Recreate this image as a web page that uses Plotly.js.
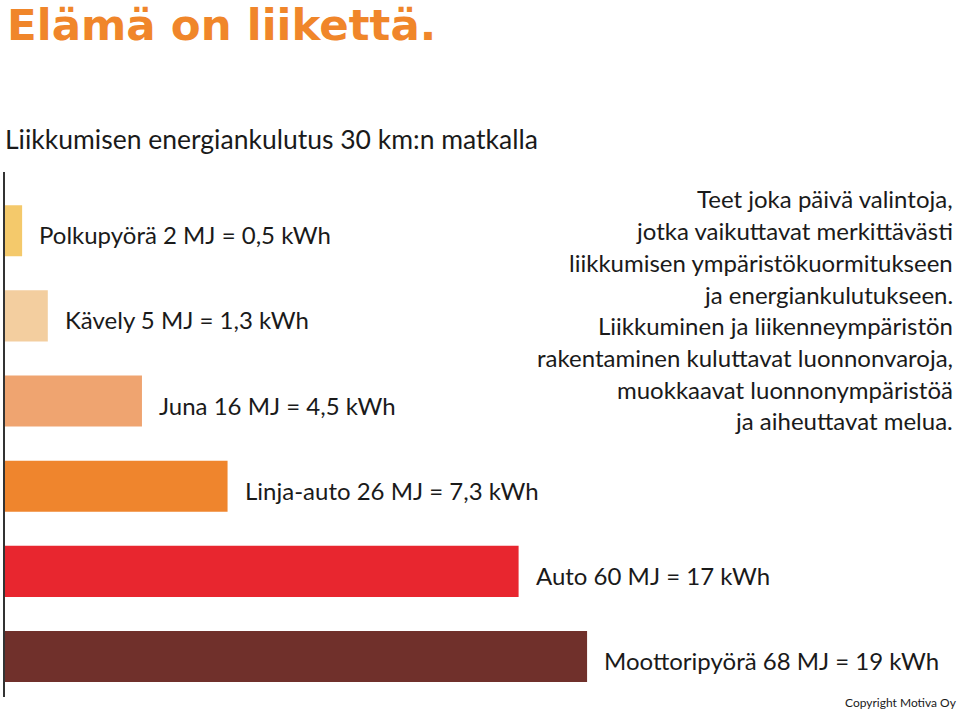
<!DOCTYPE html>
<html>
<head>
<meta charset="utf-8">
<script src="https://cdn.plot.ly/plotly-3.0.1.min.js"></script>
<style>html,body{margin:0;padding:0;background:#fff;}#chart{width:960px;height:711px;}</style>
</head>
<body>
<div id="chart"></div>
<script>
const categories = ["Polkupyörä", "Kävely", "Juna", "Linja-auto", "Auto", "Moottoripyörä"];
const valuesMJ = [2, 5, 16, 26, 60, 68];
const valuesKWh = ["0,5", "1,3", "4,5", "7,3", "17", "19"];
const barColors = ["#F4C96B", "#F3CE9F", "#EFA470", "#EF852D", "#E8262F", "#70302B"];
const infoLines = [
  "Teet joka päivä valintoja,",
  "jotka vaikuttavat merkittävästi",
  "liikkumisen ympäristökuormitukseen",
  "ja energiankulutukseen.",
  "Liikkuminen ja liikenneympäristön",
  "rakentaminen kuluttavat luonnonvaroja,",
  "muokkaavat luonnonympäristöä",
  "ja aiheuttavat melua."
];

const W = 960, H = 711;
const FONT = "Lato, 'Noto Sans', sans-serif";

const trace = {
  type: "bar",
  orientation: "h",
  y: categories,
  x: valuesMJ,
  marker: {color: barColors, line: {width: 0}},
  width: 0.6,
  hoverinfo: "none"
};

const annotations = [];
categories.forEach((c, i) => {
  annotations.push({
    x: valuesMJ[i], y: c, xref: "x", yref: "y",
    text: c + " " + valuesMJ[i] + " MJ = " + valuesKWh[i] + " kWh",
    showarrow: false, xanchor: "left", yanchor: "middle",
    xshift: 15, yshift: -4,
    font: {family: FONT, size: 24, color: "#1a1a1a"}
  });
});

// Title and subtitle
annotations.push({
  xref: "paper", yref: "paper", x: 0, y: 1 + (172 - 25) / 525,
  xanchor: "left", yanchor: "middle", showarrow: false,
  text: "<b>Elämä on liikettä.</b>",
  font: {family: "'DejaVu Sans', sans-serif", size: 43.5, color: "#F0862A"}
});
annotations.push({
  xref: "paper", yref: "paper", x: -2/950, y: 1 + (172 - 139) / 525,
  xanchor: "left", yanchor: "middle", showarrow: false,
  text: "Liikkumisen energiankulutus 30 km:n matkalla",
  font: {family: FONT, size: 26.5, color: "#1a1a1a"}
});

// Right info text lines
infoLines.forEach((t, i) => {
  const py = 199 + i * 31.7;
  annotations.push({
    xref: "paper", yref: "paper", x: 1, y: 1 - (py - 172) / 525,
    xanchor: "right", yanchor: "middle", showarrow: false,
    text: t,
    font: {family: FONT, size: 24, color: "#1a1a1a"}
  });
});

annotations.push({
  xref: "paper", yref: "paper", x: 1 + 4/950, y: 1 - (702 - 172) / 525,
  xanchor: "right", yanchor: "middle", showarrow: false,
  text: "Copyright Motiva Oy",
  font: {family: FONT, size: 12, color: "#1a1a1a"}
});

const layout = {
  width: W, height: H,
  margin: {l: 5, r: 5, t: 172, b: 14, pad: 0},
  paper_bgcolor: "#fff", plot_bgcolor: "#fff",
  showlegend: false,
  xaxis: {range: [0, 950 / 8.56], visible: false, fixedrange: true},
  yaxis: {
    type: "category",
    range: [5.475, -0.69],
    showline: true, linecolor: "#333", linewidth: 2,
    showticklabels: false, ticks: "", showgrid: false, zeroline: false
  },
  annotations: annotations
};

Plotly.newPlot("chart", [trace], layout, {displayModeBar: false, staticPlot: true});
</script>
</body>
</html>
